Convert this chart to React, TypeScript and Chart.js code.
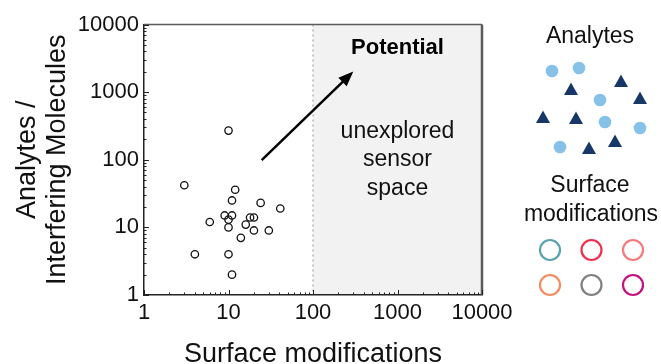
import React, { useEffect, useRef } from 'react';
import { Chart, registerables } from 'chart.js';
Chart.register(...registerables);

// ---- data ----
const surfaceModifications = [10, 3, 12, 11, 24, 41, 9, 11, 10, 6, 18, 20, 16, 10, 20, 30, 14, 4, 10, 11];
const analyteRatios = [270, 42, 36, 25, 23, 19, 15, 15, 13, 12, 14, 14, 11, 10, 9, 9, 7, 4, 4, 2];
const xTickValues = [1, 10, 100, 1000, 10000];
const yTickValues = [1, 10, 100, 1000, 10000];
const unexploredFrom = 100;
const arrowStart = [24.7, 99];
const arrowEnd = [300, 2010];
const regionLines = ['unexplored', 'sensor', 'space'];
const xTitle = 'Surface modifications';
const yTitle = ['Analytes /', 'Interfering Molecules'];
const ringColors = ['#5aa3ae', '#ee2f4e', '#f57a7c', '#f78c62', '#7f7f7f', '#c4137f'];

const FONT = "'Liberation Sans', Arial, Helvetica, sans-serif";

const decorPlugin = {
  id: 'decor',
  beforeDraw(chart: any) {
    const { ctx, chartArea: a, scales } = chart;
    const x = scales.x;
    const x0 = x.getPixelForValue(unexploredFrom);
    ctx.save();
    ctx.fillStyle = '#f2f2f2';
    ctx.fillRect(x0, a.top, a.right - x0, a.bottom - a.top);
    ctx.strokeStyle = '#b5b5b5';
    ctx.lineWidth = 1.5;
    ctx.setLineDash([2, 3]);
    ctx.beginPath();
    ctx.moveTo(x0, a.top);
    ctx.lineTo(x0, a.bottom);
    ctx.stroke();
    ctx.restore();
  },
  afterDraw(chart: any) {
    const { ctx, chartArea: a, scales } = chart;
    const xs = scales.x, ys = scales.y;
    ctx.save();
    // frame top/right
    ctx.strokeStyle = '#5a5a5a';
    ctx.lineWidth = 1.5;
    ctx.beginPath();
    ctx.moveTo(a.left, a.top);
    ctx.lineTo(a.right, a.top);
    ctx.stroke();
    ctx.lineWidth = 2.5;
    ctx.beginPath();
    ctx.moveTo(a.right, a.top);
    ctx.lineTo(a.right, a.bottom);
    ctx.stroke();
    // inward ticks
    ctx.strokeStyle = '#222';
    ctx.lineWidth = 1;
    for (let d = 1; d < 10000; d *= 10) {
      for (let m = 1; m <= 10; m++) {
        const v = d * m;
        const len = m === 1 || m === 10 ? 5 : 2.5;
        const px = Math.round(xs.getPixelForValue(v)) + 0.5;
        ctx.beginPath();
        ctx.moveTo(px, a.bottom);
        ctx.lineTo(px, a.bottom - len);
        ctx.stroke();
        const py = Math.round(ys.getPixelForValue(v)) + 0.5;
        ctx.beginPath();
        ctx.moveTo(a.left, py);
        ctx.lineTo(a.left + len, py);
        ctx.stroke();
      }
    }
    // arrow
    const sx = xs.getPixelForValue(arrowStart[0]);
    const sy = ys.getPixelForValue(arrowStart[1]);
    const ex = xs.getPixelForValue(arrowEnd[0]);
    const ey = ys.getPixelForValue(arrowEnd[1]);
    const ang = Math.atan2(ey - sy, ex - sx);
    const hl = 15, hw = 6;
    const bx = ex - hl * Math.cos(ang), by = ey - hl * Math.sin(ang);
    ctx.strokeStyle = '#000';
    ctx.lineWidth = 2.5;
    ctx.beginPath();
    ctx.moveTo(sx, sy);
    ctx.lineTo(bx + 2 * Math.cos(ang), by + 2 * Math.sin(ang));
    ctx.stroke();
    ctx.fillStyle = '#000';
    ctx.beginPath();
    ctx.moveTo(ex, ey);
    ctx.lineTo(bx - hw * Math.sin(ang), by + hw * Math.cos(ang));
    ctx.lineTo(bx + hw * Math.sin(ang), by - hw * Math.cos(ang));
    ctx.closePath();
    ctx.fill();
    // region text
    const cx = (xs.getPixelForValue(unexploredFrom) + a.right) / 2;
    ctx.textAlign = 'center';
    ctx.textBaseline = 'middle';
    ctx.fillStyle = '#000';
    ctx.font = `bold 22px ${FONT}`;
    ctx.fillText('Potential', cx, a.top + 23);
    ctx.fillStyle = '#111';
    ctx.font = `23px ${FONT}`;
    regionLines.forEach((t, i) => ctx.fillText(t, cx, a.top + 107 + i * 28.5));
    // right illustration
    const R = a.right;
    ctx.fillStyle = '#111';
    ctx.font = `23px ${FONT}`;
    ctx.fillText('Analytes', R + 108, 37);
    ctx.fillText('Surface', R + 108, 186);
    ctx.fillText('modifications', R + 109, 215);
    const circles = [[70, 71], [97, 68], [118, 100], [123, 122], [158, 128], [78, 147]];
    ctx.fillStyle = '#86c1e8';
    circles.forEach(([dx, y]) => {
      ctx.beginPath();
      ctx.arc(R + dx, y, 6.3, 0, Math.PI * 2);
      ctx.fill();
    });
    const tris = [[89, 90], [139, 82], [158, 99], [61, 118], [94, 119], [133, 142], [107, 149]];
    ctx.fillStyle = '#173769';
    tris.forEach(([dx, y]) => {
      ctx.beginPath();
      ctx.moveTo(R + dx, y - 7.5);
      ctx.lineTo(R + dx + 7, y + 5);
      ctx.lineTo(R + dx - 7, y + 5);
      ctx.closePath();
      ctx.fill();
    });
    ctx.lineWidth = 2.2;
    ringColors.forEach((c, i) => {
      const col = i % 3, row = Math.floor(i / 3);
      ctx.strokeStyle = c;
      ctx.beginPath();
      ctx.arc(R + 68 + col * 41.5, 250 + row * 35, 10, 0, Math.PI * 2);
      ctx.stroke();
    });
    ctx.restore();
  },
};

export default function App() {
  const ref = useRef<HTMLCanvasElement>(null);
  useEffect(() => {
    document.body.style.margin = '0';
    const canvas = ref.current!;
    const chart = new Chart(canvas, {
      type: 'scatter',
      data: {
        datasets: [
          {
            data: surfaceModifications.map((x, i) => ({ x, y: analyteRatios[i] })),
            backgroundColor: 'rgba(255,255,255,0)',
            borderColor: '#111',
            borderWidth: 1.3,
            pointRadius: 3.7,
          },
        ],
      },
      options: {
        animation: false,
        responsive: false,
        devicePixelRatio: 1,
        layout: { padding: { top: 24.5, right: 179, left: 0, bottom: 0 } },
        plugins: { legend: { display: false }, tooltip: { enabled: false } },
        scales: {
          x: {
            type: 'logarithmic',
            min: 1,
            max: 10000,
            afterBuildTicks: (s: any) => { s.ticks = xTickValues.map((v) => ({ value: v })); },
            afterFit: (s: any) => { s.height = 69; },
            grid: { display: false, drawTicks: false },
            border: { display: true, color: '#222', width: 1.5 },
            ticks: {
              autoSkip: false,
              maxRotation: 0,
              padding: 5,
              color: '#111',
              font: { family: FONT, size: 22 },
              callback: (v: any) => String(v),
            },
            title: {
              display: true,
              text: xTitle,
              color: '#111',
              font: { family: FONT, size: 27, lineHeight: 0.68 },
              padding: 0,
            },
          },
          y: {
            type: 'logarithmic',
            min: 1,
            max: 10000,
            afterBuildTicks: (s: any) => { s.ticks = yTickValues.map((v) => ({ value: v })); },
            afterFit: (s: any) => { s.width = 144; },
            grid: { display: false, drawTicks: false },
            border: { display: true, color: '#222', width: 1.5 },
            ticks: {
              autoSkip: false,
              padding: 5,
              color: '#111',
              font: { family: FONT, size: 22 },
              callback: (v: any) => String(v),
            },
            title: {
              display: true,
              text: yTitle,
              color: '#111',
              font: { family: FONT, size: 27, lineHeight: 1.11 },
              padding: { top: 13, bottom: 0 },
            },
          },
        },
      },
      plugins: [decorPlugin],
    } as any);
    return () => chart.destroy();
  }, []);
  return (
    <canvas ref={ref} width={661} height={364} style={{ display: 'block', width: 661, height: 364 }} />
  );
}
